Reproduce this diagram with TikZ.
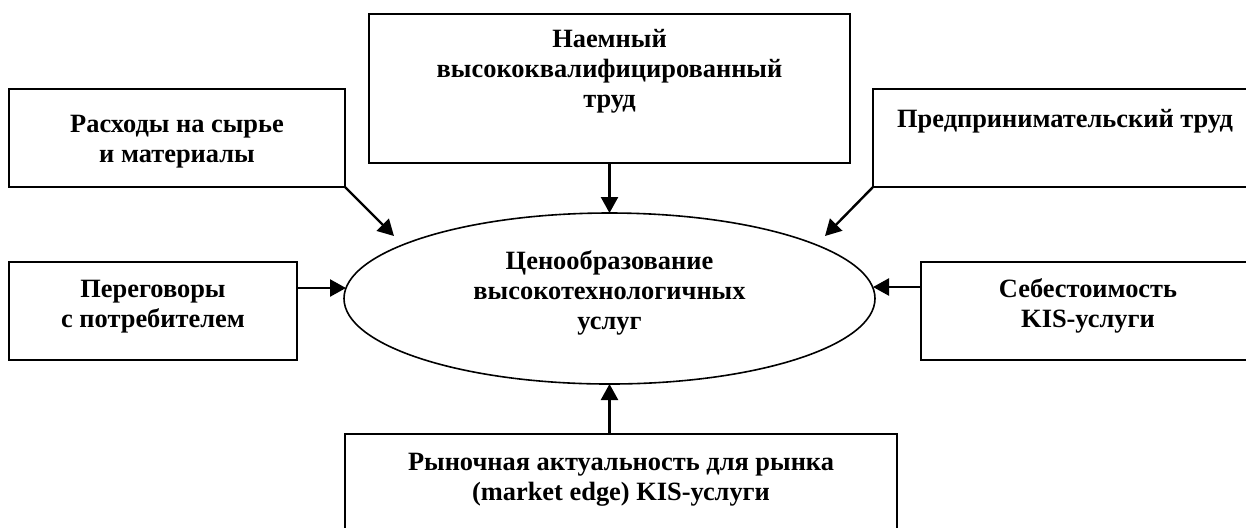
\documentclass[tikz,border=0pt]{standalone}
\usepackage{fontspec}
\setmainfont{Liberation Serif}
\usetikzlibrary{arrows.meta,shapes.geometric,calc}
\begin{document}
\begin{tikzpicture}[x=0.5pt,y=-0.5pt,
  box/.style={draw, line width=0.9pt, rectangle, inner sep=0pt, outer sep=0pt, anchor=north west},
  lbl/.style={align=center, font=\fontsize{13.2}{14.8}\selectfont\bfseries, inner sep=0pt, anchor=base},
  oval/.style={draw, line width=0.8pt, ellipse, inner sep=0pt, outer sep=0pt, minimum width=265.5pt, minimum height=85.5pt},
  arr/.style={line width=1.2pt, -{Triangle[length=8pt,width=8.5pt]}}]
\useasboundingbox (0,0) rectangle (1246,527);
\clip (0,0) rectangle (1246,527);
% boxes
\node[box, minimum width=168pt, minimum height=49pt] (A) at (9,89) {};
\node[box, minimum width=240.5pt, minimum height=74.5pt] (B) at (369,14) {};
\node[box, minimum width=203.5pt, minimum height=49pt] (C) at (873,89) {};
\node[box, minimum width=144pt, minimum height=49pt] (D) at (9,262) {};
\node[box, minimum width=179.5pt, minimum height=49pt] (E) at (921,262) {};
\node[box, minimum width=276pt, minimum height=63pt] (F) at (345,434) {};
\node[oval] (M) at (609.5,298.5) {};
% texts (anchored at the baseline of the last line)
\node[lbl] (tA) at (177,162) {Расходы на сырье\\и материалы};
\node[lbl] (tB) at (609.5,107) {Наемный\\высококвалифицированный\\труд};
\node[lbl] (tC) at (1065,127) {Предпринимательский труд};
\node[lbl] (tD) at (153,327) {Переговоры\\с потребителем};
\node[lbl] (tE) at (1088,327) {Себестоимость\\KIS-услуги};
\node[lbl] (tF) at (621,500) {Рыночная актуальность для рынка\\(market edge) KIS-услуги};
\node[lbl] (tM) at (609.5,329) {Ценообразование\\высокотехнологичных\\услуг};
% arrow tips
\coordinate (pA) at (394,236);
\coordinate (pC) at (825,236);
\coordinate (pD) at (346,288);
\coordinate (pE) at (873,287);
% connectors
\draw[arr] (A.south east) -- (pA);
\draw[arr] (C.south west) -- (pC);
\draw[arr] (M.north |- B.south) -- (M.north);
\draw[arr] (pD -| D.east) -- (pD);
\draw[arr] (pE -| E.west) -- (pE);
\draw[arr] (M.south |- F.north) -- (M.south);
\end{tikzpicture}
\end{document}
